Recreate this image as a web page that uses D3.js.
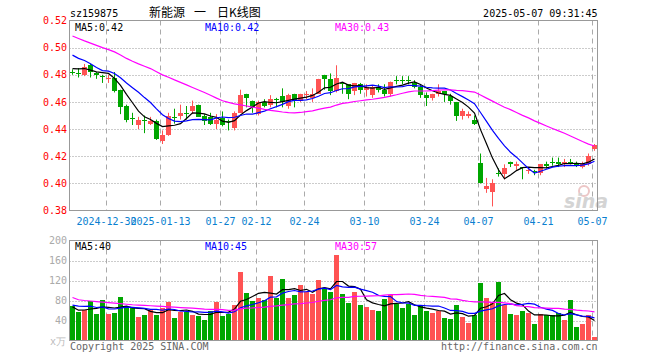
<!DOCTYPE html>
<html><head><meta charset="utf-8">
<script src="https://cdn.jsdelivr.net/npm/d3@7"></script>
<style>
body{margin:0;background:#fff}
svg{display:block}
text{font-family:"DejaVu Sans Mono",monospace;font-size:10px}
</style>
</head><body>
<svg id="c" width="660" height="360"></svg>
<script>
// ---- data ----
const dates=["2024-12-20","2024-12-23","2024-12-24","2024-12-25","2024-12-26","2024-12-27","2024-12-30","2024-12-31",
"2025-01-02","2025-01-03","2025-01-06","2025-01-07","2025-01-08","2025-01-09","2025-01-10","2025-01-13","2025-01-14","2025-01-15","2025-01-16","2025-01-17","2025-01-20","2025-01-21","2025-01-22","2025-01-23","2025-01-24","2025-01-27",
"2025-02-05","2025-02-06","2025-02-07","2025-02-10","2025-02-11","2025-02-12","2025-02-13","2025-02-14","2025-02-17","2025-02-18","2025-02-19","2025-02-20","2025-02-21","2025-02-24","2025-02-25","2025-02-26","2025-02-27","2025-02-28",
"2025-03-03","2025-03-04","2025-03-05","2025-03-06","2025-03-07","2025-03-10","2025-03-11","2025-03-12","2025-03-13","2025-03-14","2025-03-17","2025-03-18","2025-03-19","2025-03-20","2025-03-21","2025-03-24","2025-03-25","2025-03-26","2025-03-27","2025-03-28","2025-03-31",
"2025-04-01","2025-04-02","2025-04-03","2025-04-07","2025-04-08","2025-04-09","2025-04-10","2025-04-11","2025-04-14","2025-04-15","2025-04-16","2025-04-17","2025-04-18","2025-04-21","2025-04-22","2025-04-23","2025-04-24","2025-04-25","2025-04-28","2025-04-29","2025-04-30",
"2025-05-06","2025-05-07"];
const opens=[.482,.481,.480,.487,.481,.479,.477,.478,.469,.457,
.448,.443,.447,.444,.446,.431,.436,.449,.450,.452,
.453,.458,.450,.449,.444,.448,.446,.441,.452,.466,
.461,.451,.460,.458,.462,.464,.457,.466,.461,.465,
.463,.466,.480,.477,.468,.474,.473,.468,.473,.469,
.465,.471,.469,.466,.476,.476,.476,.474,.471,.465,
.463,.466,.468,.464,.460,.450,.450,.447,.415,.396,
.394,.408,.407,.416,.413,.412,.409,.409,.408,.414,
.416,.416,.414,.416,.414,.412,.414,.425];
const highs=[.484,.485,.488,.488,.482,.480,.480,.482,.469,.458,
.452,.449,.450,.449,.447,.439,.452,.455,.458,.457,
.461,.458,.451,.452,.451,.453,.447,.453,.469,.466,
.461,.461,.462,.465,.463,.470,.466,.466,.466,.468,
.470,.477,.480,.481,.487,.474,.473,.474,.474,.473,
.472,.473,.473,.475,.479,.479,.479,.476,.473,.467,
.466,.473,.468,.466,.460,.455,.453,.450,.422,.404,
.403,.411,.414,.416,.416,.412,.411,.410,.414,.416,
.419,.419,.418,.418,.416,.416,.422,.429];
const lows=[.480,.478,.479,.478,.477,.474,.474,.467,.451,.445,
.443,.440,.437,.443,.432,.429,.435,.444,.447,.447,
.451,.449,.443,.443,.440,.442,.439,.439,.452,.456,
.452,.450,.456,.456,.456,.456,.455,.456,.460,.462,
.460,.466,.469,.465,.467,.466,.462,.465,.466,.464,
.463,.467,.464,.464,.473,.473,.473,.470,.463,.457,
.461,.464,.460,.458,.446,.447,.448,.443,.400,.393,
.383,.405,.403,.412,.410,.403,.407,.406,.406,.411,
.413,.412,.412,.414,.412,.411,.413,.424];
const closes=[.482,.481,.486,.482,.480,.479,.478,.468,.456,.447,
.448,.447,.447,.446,.433,.436,.450,.449,.452,.452,
.457,.449,.446,.444,.447,.443,.445,.452,.465,.463,
.456,.460,.457,.462,.462,.460,.465,.461,.466,.466,
.466,.477,.477,.468,.478,.473,.466,.474,.469,.471,
.471,.469,.466,.475,.476,.476,.476,.471,.465,.463,
.466,.468,.466,.461,.450,.453,.451,.444,.400,.398,
.400,.408,.411,.414,.414,.411,.410,.409,.414,.413,
.416,.414,.416,.414,.414,.414,.420,.428];
const volumes=[69,57,62,80,54,82,53,56,88,65,
65,48,52,61,52,65,78,46,58,58,
52,50,42,60,78,50,54,72,138,96,
80,86,82,130,86,124,86,92,112,98,
94,122,104,98,172,94,76,98,72,68,
62,60,84,92,74,65,74,52,72,60,
56,60,45,43,72,48,35,52,116,86,
78,118,72,54,52,60,56,34,54,51,
51,56,42,82,27,33,52,6];
// closes / volumes before the visible window (estimated so the averages match the picture)
const priorCloses=[.535,.540,.532,.530,.528,.522,.518,.525,.522,
.510,.505,.500,.498,.502,.505,.503,.508,.506,.508,
.515,.505,.502,.505,.508,.502,.482,.485,.488,.486];
const priorVolumes=[192,107,110,87,115,86,88,120,97,97,
68,72,81,72,87,100,68,80,80,67,
75,70,75,80,71,90,60,70,47];
const tickDates=["2024-12-30","2025-01-13","2025-01-27","2025-02-12","2025-02-24","2025-03-10","2025-03-24","2025-04-07","2025-04-21","2025-05-07"];
const tickLabels=["2024-12-30","2025-01-13","01-27","02-12","02-24","03-10","03-24","04-07","04-21","05-07"];
const priceTicks=[0.38,0.40,0.42,0.44,0.46,0.48,0.50,0.52];
const volTicks=[40,80,120,160,200];
const maPeriods=[5,10,30];
const maColors=["#000000","#0000ff","#ff00ff"];

// ---- helpers ----
function movingAvg(series, prior, n){
  const all=prior.concat(series), off=prior.length;
  return series.map((_,i)=>{const e=off+i; return d3.mean(all.slice(e-n+1,e+1));});
}
const svg=d3.select("#c");
const L=69.5,R=597.5, PT=20.5, PB=210.5, VT=240.5, VB=340.5;
const x=d3.scaleBand().domain(dates).range([L,R]).padding(0);
const y=d3.scaleLinear().domain([0.38,0.52]).range([PB,PT]);
const vy=d3.scaleLinear().domain([0,200]).range([VB,VT]);
const cx=d=>x(d)+3;
const up=i=>closes[i]>opens[i];
const RED="#ff5353", GREEN="#00a600";

// header
svg.append("text").attr("x",70).attr("y",16.5).text("sz159875");
svg.append("text").attr("x",149).attr("y",17).style("font-family","'Noto Sans CJK SC'").style("font-size","12px").text("新能源");
svg.append("text").attr("x",194).attr("y",17).style("font-family","'Noto Sans CJK SC'").style("font-size","12px").text("一");
svg.append("text").attr("x",217).attr("y",17).style("font-family","'Noto Sans CJK SC'").style("font-size","12px").text("日K线图");
svg.append("text").attr("x",597.5).attr("y",16.5).attr("text-anchor","end").text("2025-05-07 09:31:45");

// grids price
const grid=svg.append("g");
priceTicks.slice(1,-1).forEach(t=>{
  grid.append("line").attr("x1",L).attr("x2",R).attr("y1",Math.round(y(t))+0.5).attr("y2",Math.round(y(t))+0.5)
   .attr("stroke","#999").attr("stroke-dasharray","1,2");
});
volTicks.slice(0,-1).forEach(t=>{
  grid.append("line").attr("x1",L).attr("x2",R).attr("y1",Math.round(vy(t))+0.5).attr("y2",Math.round(vy(t))+0.5)
   .attr("stroke","#999").attr("stroke-dasharray","1,2");
});
tickDates.forEach(d=>{
  const gx=x(d)+1;
  [[PT,PB],[VT,VB]].forEach(([a,b])=>grid.append("line").attr("x1",gx).attr("x2",gx).attr("y1",a).attr("y2",b)
    .attr("stroke","#aaa").attr("stroke-dasharray","5,4"));
});

// watermark
svg.append("circle").attr("cx",584).attr("cy",191).attr("r",5).attr("fill","none").attr("stroke","#ecc6c6").attr("stroke-width",2);
svg.append("text").attr("x",564).attr("y",208).style("font-family","'DejaVu Sans'").style("font-size","19px").style("font-style","italic").style("font-weight","bold").attr("fill","#d4d4d4").text("sina");

// borders
svg.append("rect").attr("x",L).attr("y",PT).attr("width",R-L).attr("height",PB-PT).attr("fill","none").attr("stroke","#999");
svg.append("rect").attr("x",L).attr("y",VT).attr("width",R-L).attr("height",VB-VT).attr("fill","none").attr("stroke","#999");

// y labels
priceTicks.forEach(t=>svg.append("text").attr("x",67).attr("y",y(t)).attr("dy","0.36em").attr("text-anchor","end").attr("fill","#ff0000").text(t.toFixed(2)));
volTicks.forEach(t=>svg.append("text").attr("x",67).attr("y",vy(t)).attr("dy","0.36em").attr("text-anchor","end").attr("fill","#aaa").text(t));
svg.append("text").attr("x",66).attr("y",345).attr("text-anchor","end").attr("fill","#bbb").text("x万");

// x labels
tickDates.forEach((d,i)=>svg.append("text").attr("x",x(d)+1).attr("y",225).attr("text-anchor","middle").attr("fill","#0a7fd0").text(tickLabels[i]));

// candles
const cg=svg.append("g");
dates.forEach((d,i)=>{
  const col=up(i)?RED:GREEN;
  cg.append("line").attr("x1",cx(d)).attr("x2",cx(d)).attr("y1",y(highs[i])).attr("y2",y(lows[i])).attr("stroke",col);
  const top=Math.round(y(Math.max(opens[i],closes[i]))), bot=Math.round(y(Math.min(opens[i],closes[i])));
  cg.append("rect").attr("x",x(d)+0.5).attr("y",top).attr("width",5).attr("height",Math.max(1,bot-top)).attr("fill",col);
  const vt=Math.round(vy(volumes[i]));
  cg.append("rect").attr("x",x(d)+0.5).attr("y",vt).attr("width",5).attr("height",340-vt).attr("fill",col);
});

// moving averages
const line=d3.line();
maPeriods.forEach((n,j)=>{
  const pm=movingAvg(closes,priorCloses,n);
  svg.append("path").attr("d",line(pm.map((v,i)=>[cx(dates[i]),y(v)]))).attr("fill","none").attr("stroke",maColors[j]).attr("stroke-width",1.2);
  const vm=movingAvg(volumes,priorVolumes,n);
  svg.append("path").attr("d",line(vm.map((v,i)=>[cx(dates[i]),vy(v)]))).attr("fill","none").attr("stroke",maColors[j]).attr("stroke-width",1.2);
  const lx=[75,205,335][j];
  svg.append("text").attr("x",lx).attr("y",30.5).attr("fill",maColors[j]).text("MA"+n+":"+pm[pm.length-1].toFixed(2));
  svg.append("text").attr("x",lx).attr("y",250).attr("fill",maColors[j]).text("MA"+n+":"+Math.round(vm[vm.length-1]));
});

// footer
svg.append("text").attr("x",70).attr("y",349.5).attr("fill","#666").text("Copyright 2025 SINA.COM");
svg.append("text").attr("x",597.5).attr("y",349.5).attr("text-anchor","end").attr("fill","#666").text("http://finance.sina.com.cn");
</script>
</body></html>
